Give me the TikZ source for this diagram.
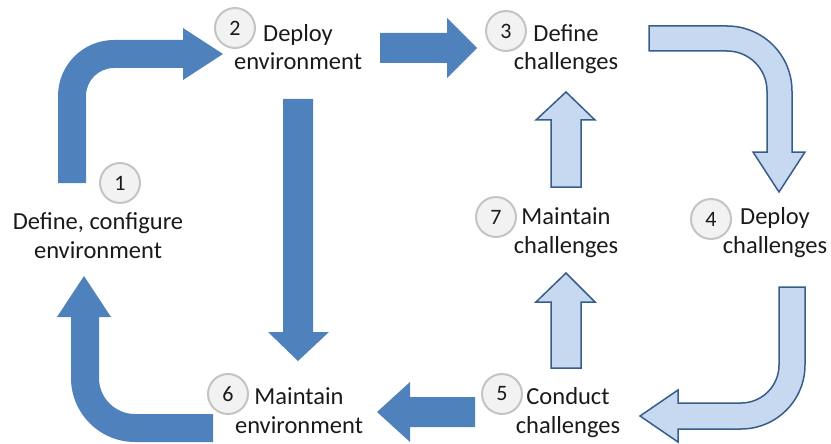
\documentclass[tikz,border=0pt]{standalone}
\usepackage{fontspec}
\setmainfont{Carlito}
\begin{document}
\begin{tikzpicture}[x=1pt,y=1pt,
  darkarrow/.style={fill=arrowdark, draw=none},
  lightarrow/.style={fill=arrowlight, draw=arrowedge, line width=1.5pt, line join=miter},
  numcircle/.style={circle, fill=circfill, draw=circedge, line width=2pt,
    minimum size=40pt, inner sep=0pt, font=\fontsize{22}{26}\selectfont, text=labeltext},
  steplabel/.style={align=center, anchor=base, inner sep=0pt,
    font=\fontsize{24.5}{28.5}\selectfont, text=labeltext}]
\definecolor{arrowdark}{HTML}{4F81BD}
\definecolor{arrowlight}{HTML}{C6D9F1}
\definecolor{arrowedge}{HTML}{385D8A}
\definecolor{circfill}{HTML}{F2F2F2}
\definecolor{circedge}{HTML}{C4C4C4}
\definecolor{labeltext}{HTML}{1A1A1A}

\useasboundingbox (0,0) rectangle (831,-444);

% environment loop (dark arrows)
\draw[darkarrow] (58,-183) -- (58,-96) arc[start angle=180, end angle=90, radius=56]
  -- (183,-40) -- (183,-28) -- (223,-54) -- (183,-80) -- (183,-68) -- (114,-68)
  arc[start angle=90, end angle=180, radius=28] -- (86,-183) -- cycle;
\draw[darkarrow] (380,-33) -- (447,-33) -- (447,-18) -- (477,-48) -- (447,-78)
  -- (447,-63) -- (380,-63) -- cycle;
\draw[darkarrow] (283,-99) -- (313,-99) -- (313,-332) -- (329,-332) -- (298,-361)
  -- (268,-332) -- (283,-332) -- cycle;
\draw[darkarrow] (213,-442) -- (135,-442) arc[start angle=270, end angle=180, radius=64]
  -- (71,-317) -- (57,-317) -- (84,-276) -- (111,-317) -- (99,-317) -- (99,-378)
  arc[start angle=180, end angle=270, radius=36] -- (213,-414) -- cycle;
\draw[darkarrow] (475,-397) -- (410,-397) -- (410,-382) -- (377,-412) -- (410,-442)
  -- (410,-427) -- (475,-427) -- cycle;

% challenge loop (light arrows)
\draw[lightarrow] (649,-26) -- (727,-26) arc[start angle=90, end angle=0, radius=65]
  -- (792,-152) -- (805,-152) -- (779,-192) -- (753,-152) -- (767,-152) -- (767,-91)
  arc[start angle=0, end angle=90, radius=40] -- (649,-51) -- cycle;
\draw[lightarrow] (551,-187) -- (551,-120) -- (536,-120) -- (566,-92) -- (595,-120)
  -- (581,-120) -- (581,-187) -- cycle;
\draw[lightarrow] (551,-368) -- (551,-302) -- (536,-302) -- (566,-273) -- (595,-302)
  -- (581,-302) -- (581,-368) -- cycle;
\draw[lightarrow] (779,-287) -- (805,-287) -- (805,-365) arc[start angle=0, end angle=-90, radius=64]
  -- (678,-429) -- (678,-442) -- (640,-416) -- (678,-390) -- (678,-403) -- (741,-403)
  arc[start angle=-90, end angle=0, radius=38] -- cycle;

% step labels (anchored at the baseline of their second line)
\node[steplabel] (n1) at (98,-258) {Define, configure\\environment};
\node[steplabel] (n2) at (298,-70) {Deploy\\environment};
\node[steplabel] (n3) at (566,-70) {Define\\challenges};
\node[steplabel] (n4) at (775,-253) {Deploy\\challenges};
\node[steplabel] (n5) at (568,-433) {Conduct\\challenges};
\node[steplabel] (n6) at (299,-433) {Maintain\\environment};
\node[steplabel] (n7) at (566,-253) {Maintain\\challenges};

% step numbers
\node[numcircle] (c1) at (120,-183) {1};
\node[numcircle] (c2) at (235,-28) {2};
\node[numcircle] (c3) at (506,-31) {3};
\node[numcircle] (c4) at (711,-219) {4};
\node[numcircle] (c5) at (502,-394) {5};
\node[numcircle] (c6) at (228,-394) {6};
\node[numcircle] (c7) at (496,-217) {7};
\end{tikzpicture}
\end{document}
